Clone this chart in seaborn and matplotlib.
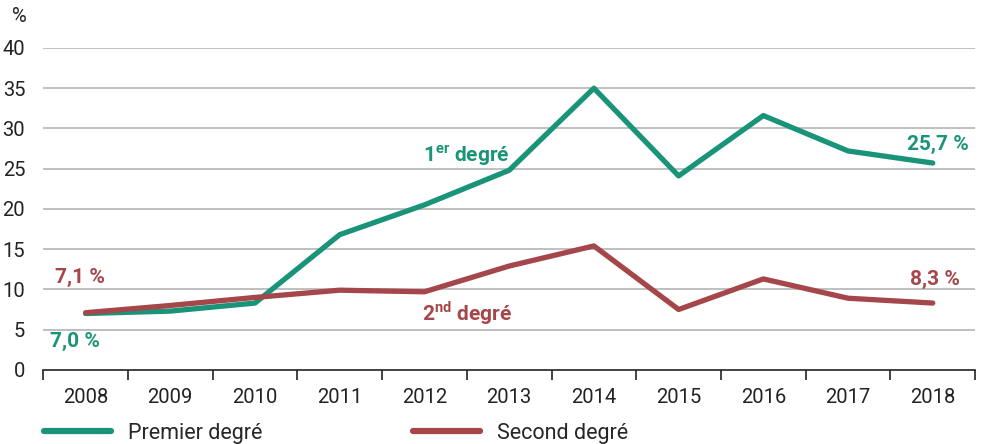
import numpy as np
import pandas as pd
import matplotlib
matplotlib.use("Agg")
import matplotlib.pyplot as plt
import seaborn as sns

sns.set_style("white")
plt.rcParams['font.family'] = ['Roboto', 'DejaVu Sans']
plt.rcParams['mathtext.fontset'] = 'custom'
plt.rcParams['mathtext.bf'] = 'Roboto:bold'
plt.rcParams['mathtext.rm'] = 'Roboto'

years = ["2008", "2009", "2010", "2011", "2012", "2013", "2014", "2015", "2016", "2017", "2018"]
premier = [7.0, 7.3, 8.3, 16.8, 20.5, 24.8, 35.0, 24.1, 31.6, 27.2, 25.7]
second = [7.1, 8.0, 9.0, 9.9, 9.7, 12.9, 15.4, 7.5, 11.3, 8.9, 8.3]

green = "#1a9479"
red = "#a5464a"

df = pd.DataFrame({
    "pos": list(range(len(years))) * 2,
    "val": premier + second,
    "serie": ["Premier degré"] * len(years) + ["Second degré"] * len(years),
})

fig = plt.figure(figsize=(9.82, 4.44), dpi=100)
ax = fig.add_axes([0.044, 0.167, 0.949, 0.725])

for y in range(5, 45, 5):
    ax.axhline(y, color="#b4b4b4", lw=1.2, zorder=0)

sns.lineplot(data=df, x="pos", y="val", hue="serie",
             palette={"Premier degré": green, "Second degré": red},
             linewidth=3.8, ax=ax, legend=False, solid_capstyle="round")

ax.set_xlim(-0.5, len(years) - 0.5)
ax.set_ylim(0, 40)
ax.set_xlabel("")
ax.set_ylabel("")
for s in ["top", "right", "left"]:
    ax.spines[s].set_visible(False)
ax.spines["bottom"].set_color("#222222")
ax.spines["bottom"].set_linewidth(1.2)

ax.set_xticks(range(len(years)))
ax.set_xticklabels(years, fontsize=14.5, color="#222222")
ax.set_xticks(np.arange(-0.5, len(years), 1.0), minor=True)
ax.tick_params(axis="x", which="major", bottom=True, length=0, pad=13)
ax.tick_params(axis="x", which="minor", bottom=True, length=7, width=1.2,
               color="#222222", direction="out")
ax.set_yticks(range(0, 45, 5))
ax.set_yticklabels([str(v) for v in range(0, 45, 5)], fontsize=14.5, color="#222222")
ax.tick_params(axis="y", length=0, pad=13)

fig.text(0.012, 0.95, "%", fontsize=14.5, color="#222222")

bold = dict(fontsize=15, fontweight="bold")
ax.text(-0.13, 2.9, "7,0 %", color=green, ha="center", **bold)
ax.text(-0.07, 10.8, "7,1 %", color=red, ha="center", **bold)
ax.text(10.06, 27.3, "25,7 %", color=green, ha="center", **bold)
ax.text(10.03, 10.5, "8,3 %", color=red, ha="center", **bold)
ax.text(4.5, 25.8, r"1$^{\mathbf{er}}$ degré", color=green, ha="center", **bold)
ax.text(4.5, 6.1, r"2$^{\mathbf{nd}}$ degré", color=red, ha="center", **bold)

handles = [plt.Line2D([], [], color=green, lw=4.5, solid_capstyle="round"),
           plt.Line2D([], [], color=red, lw=4.5, solid_capstyle="round")]
fig.legend(handles, ["Premier degré", "Second degré"], loc="center left",
           bbox_to_anchor=(0.045, 0.024), ncol=2, frameon=False, fontsize=15.5,
           handlelength=3.1, columnspacing=7.0, handletextpad=0.8,
           borderpad=0, borderaxespad=0)

fig.savefig("out.png", dpi=100)
